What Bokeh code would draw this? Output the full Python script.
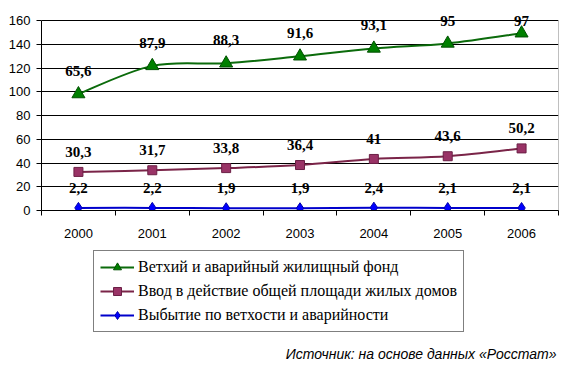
import numpy as np
from bokeh.plotting import figure
from bokeh.layouts import column
from bokeh.models import (Range1d, FixedTicker, Legend, LegendItem, Label,
                          ColumnDataSource, LabelSet)
from bokeh.embed import file_html
from bokeh.resources import INLINE

years = ["2000", "2001", "2002", "2003", "2004", "2005", "2006"]
dilapidated = [65.6, 87.9, 88.3, 91.6, 93.1, 95, 97]
commissioned = [30.3, 31.7, 33.8, 36.4, 41, 43.6, 50.2]
retired = [2.2, 2.2, 1.9, 1.9, 2.4, 2.1, 2.1]
series_names = ["Ветхий и аварийный жилищный фонд",
                "Ввод в действие общей площади жилых домов",
                "Выбытие по ветхости и аварийности"]
y_ticks = [0, 20, 40, 60, 80, 100, 120, 140, 160]
source_text = "Источник: на основе данных «Росстат»"

x = np.arange(len(years)) + 0.5
# stacked line chart
cum_blue = np.array(retired, dtype=float)
cum_purple = cum_blue + np.array(commissioned)
cum_green = cum_purple + np.array(dilapidated)

def fmt(v):
    return f"{v:g}".replace(".", ",")

Y_MAX = 160
px_per_unit = 190 / Y_MAX
top_extra = 12
frame_h = 190 + top_extra
p = figure(width=566, height=250, output_backend="svg", toolbar_location=None,
           x_range=Range1d(0, len(years)), y_range=Range1d(0, frame_h / px_per_unit),
           min_border_left=41, min_border_right=8, min_border_top=250 - 40 - frame_h,
           min_border_bottom=40)
p.background_fill_color = "white"
p.border_fill_color = "white"
p.outline_line_color = None
p.xgrid.visible = False
p.ygrid.grid_line_color = "black"
p.ygrid.ticker = FixedTicker(ticks=y_ticks)

p.yaxis.ticker = FixedTicker(ticks=y_ticks)
p.yaxis.bounds = (0, Y_MAX)
p.yaxis.major_tick_out = 5
p.yaxis.major_tick_in = 0
p.yaxis.minor_tick_out = 0
p.yaxis.axis_line_color = "black"
p.yaxis.major_tick_line_color = "black"
p.yaxis.major_label_text_font = "Liberation Sans"
p.yaxis.major_label_text_font_size = "13px"
p.yaxis.major_label_text_color = "black"
p.yaxis.major_label_standoff = 6

p.xaxis.ticker = FixedTicker(ticks=list(x), minor_ticks=list(range(len(years) + 1)))
p.xaxis.major_label_overrides = {float(xi): y for xi, y in zip(x, years)}
p.xaxis.major_tick_out = 0
p.xaxis.major_tick_in = 0
p.xaxis.minor_tick_out = 5
p.xaxis.minor_tick_in = 0
p.xaxis.minor_tick_line_color = "black"
p.xaxis.axis_line_color = "black"
p.xaxis.major_label_text_font = "Liberation Sans"
p.xaxis.major_label_text_font_size = "13px"
p.xaxis.major_label_text_color = "black"
p.xaxis.major_label_standoff = 13

# right border of plot area
p.segment(x0=[len(years)], y0=[0], x1=[len(years)], y1=[Y_MAX], line_color="#808080",
          line_width=1)

def smooth(fig, xs, ys, color):
    xs = list(xs); ys = list(ys)
    n = len(xs)
    x0, y0, x1, y1, cx0, cy0, cx1, cy1 = ([] for _ in range(8))
    for i in range(n - 1):
        pxm, pym = (xs[i - 1], ys[i - 1]) if i > 0 else (xs[i], ys[i])
        pxp, pyp = (xs[i + 2], ys[i + 2]) if i + 2 < n else (xs[i + 1], ys[i + 1])
        x0.append(xs[i]); y0.append(ys[i]); x1.append(xs[i + 1]); y1.append(ys[i + 1])
        cx0.append(xs[i] + (xs[i + 1] - pxm) / 6); cy0.append(ys[i] + (ys[i + 1] - pym) / 6)
        cx1.append(xs[i + 1] - (pxp - xs[i]) / 6); cy1.append(ys[i + 1] - (pyp - ys[i]) / 6)
    fig.bezier(x0=x0, y0=y0, x1=x1, y1=y1, cx0=cx0, cy0=cy0, cx1=cx1, cy1=cy1,
               line_color=color, line_width=2)

styles = [
    (cum_green, dilapidated, "#0b6b0b", "#008000", "#005000", "triangle", 13, 23),
    (cum_purple, commissioned, "#7a2448", "#993366", "#6b1f45", "square", 9, 20),
    (cum_blue, retired, "#0000cc", "#0000ff", "#0000aa", "diamond", 11, 20),
]

# second panel for legend and source note
p2 = figure(width=566, height=120, output_backend="svg", toolbar_location=None,
            x_range=Range1d(41, 558), y_range=Range1d(0, 120),
            x_axis_location=None, y_axis_location=None,
            min_border_left=41, min_border_right=8,
            min_border_top=0, min_border_bottom=0)
p2.grid.visible = False
p2.outline_line_color = None
p2.background_fill_color = "white"
p2.border_fill_color = "white"

items = []
for (ys, vals, lc, fc, oc, mk, sz, off), name in zip(styles, series_names):
    smooth(p, x, ys, lc)
    p.scatter(x=x, y=ys, marker=mk, size=sz, fill_color=fc, line_color=oc)
    ly = np.minimum(ys + off / px_per_unit, Y_MAX)
    src = ColumnDataSource(dict(x=x, y=ly, t=[fmt(v) for v in vals]))
    p.add_layout(LabelSet(x="x", y="y", text="t", source=src, text_align="center",
                          text_baseline="middle", text_font="Liberation Serif",
                          text_font_style="bold", text_font_size="15px",
                          text_color="black"))
    # legend proxies placed outside the visible range
    l2 = p2.line(x=[-50, -40], y=[-50, -50], line_color=lc, line_width=2)
    s2 = p2.scatter(x=[-45], y=[-50], marker=mk, size=sz, fill_color=fc, line_color=oc)
    items.append(LegendItem(label=name, renderers=[l2, s2]))

legend = Legend(items=items, location=(52, 38), orientation="vertical",
                border_line_color="black", border_line_width=1,
                background_fill_color="white", background_fill_alpha=1,
                label_text_font="Liberation Serif", label_text_font_size="16px",
                label_text_color="black", glyph_width=34, glyph_height=20,
                label_height=20, label_standoff=4, spacing=4, padding=6, margin=0)
p2.add_layout(legend, "center")

p2.add_layout(Label(x=556, y=17, text=source_text,
                    text_align="right", text_baseline="middle",
                    text_font="Liberation Sans", text_font_style="italic",
                    text_font_size="14px", text_color="black"))

layout = column(p, p2, spacing=0)
open("out.html", "w").write(file_html(layout, INLINE))
